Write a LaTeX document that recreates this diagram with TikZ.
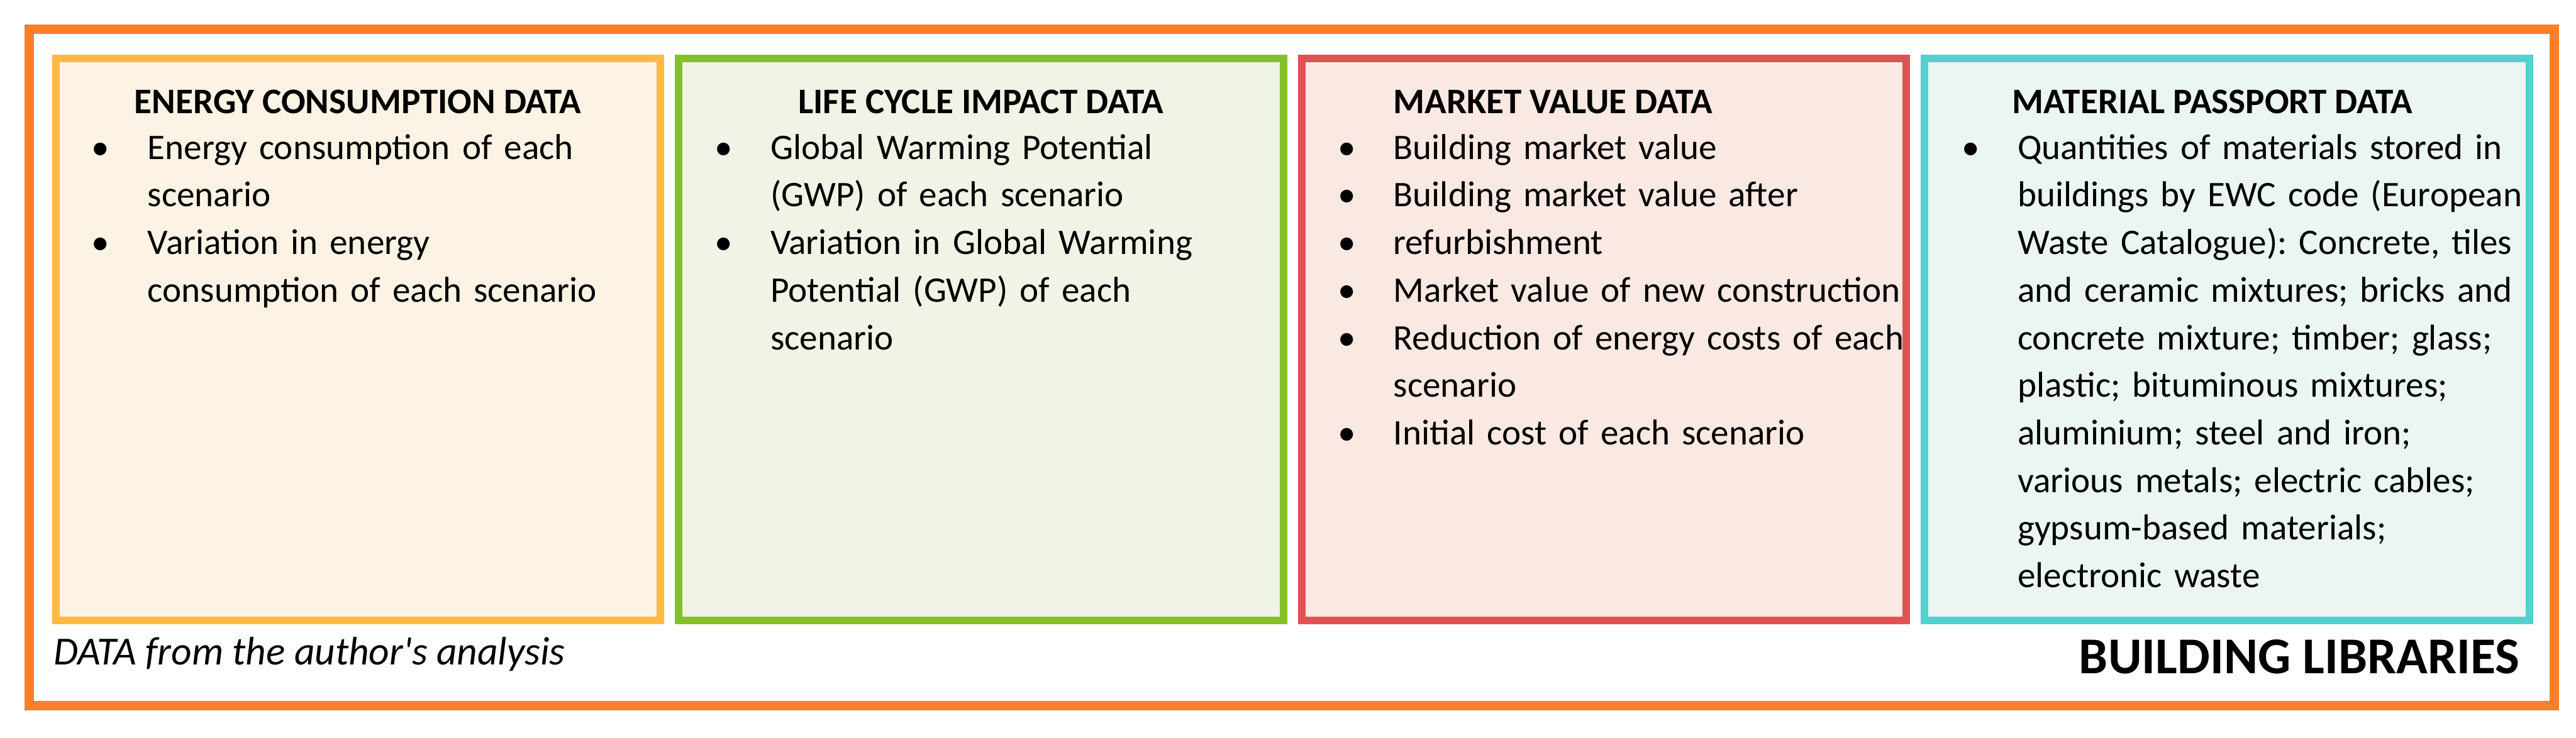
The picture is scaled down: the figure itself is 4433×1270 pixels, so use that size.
\documentclass[tikz,border=0pt]{standalone}
\usepackage{fontspec}
\setmainfont{Carlito}
\definecolor{frameorange}{RGB}{255,127,39}
\definecolor{energyline}{RGB}{255,186,68}
\definecolor{energyfill}{RGB}{253,243,228}
\definecolor{lcaline}{RGB}{132,192,41}
\definecolor{lcafill}{RGB}{240,244,230}
\definecolor{marketline}{RGB}{224,82,84}
\definecolor{marketfill}{RGB}{250,232,226}
\definecolor{passline}{RGB}{84,208,206}
\definecolor{passfill}{RGB}{235,246,243}
\newcommand{\bul}{\makebox[0.96cm][l]{\textbullet}}
\newcommand{\cont}{\hspace*{0.96cm}}
\frenchspacing
\begin{document}
\begin{tikzpicture}[x=0.01cm, y=-0.01cm,
  every node/.style={inner sep=0pt, outer sep=0pt, font=\fontsize{17.6}{23.3}\selectfont},
  databox/.style={draw, line width=3.7pt, minimum width=10.4cm, minimum height=9.67cm, anchor=north west},
  head/.style={anchor=base, font=\fontsize{17.6}{23.3}\selectfont\bfseries},
  items/.style={anchor=base west, text width=10cm, align=left}]
\fill[white] (0,0) rectangle (4433,1270);
\useasboundingbox (0,0) rectangle (4433,1270);
\node[draw=frameorange, line width=4.5pt, minimum width=43.43cm, minimum height=11.64cm, anchor=north west] (frame) at (50,50) {};
\node[databox, draw=energyline, fill=energyfill] (energy) at (96,101) {};
\node[databox, draw=lcaline, fill=lcafill] (lca) at (1168,101) {};
\node[databox, draw=marketline, fill=marketfill] (market) at (2240,101) {};
\node[databox, draw=passline, fill=passfill] (passport) at (3312,101) {};
\node[head] (energyhead) at (616,195) {ENERGY CONSUMPTION DATA};
\node[head] (lcahead) at (1688,195) {LIFE CYCLE IMPACT DATA};
\node[head, anchor=base west] (markethead) at (2398,195) {MARKET VALUE DATA};
\node[head, anchor=base west] (passhead) at (3463,195) {MATERIAL PASSPORT DATA};
\node[items] (energylist) at (158,274) {\bul Energy consumption of each\\ \cont scenario\\ \bul Variation in energy\\ \cont consumption of each scenario};
\node[items] (lcalist) at (1230,274) {\bul Global Warming Potential\\ \cont (GWP) of each scenario\\ \bul Variation in Global Warming\\ \cont Potential (GWP) of each\\ \cont scenario};
\node[items] (marketlist) at (2302,274) {\bul Building market value\\ \bul Building market value after\\ \bul refurbishment\\ \bul Market value of new construction\\ \bul Reduction of energy costs of each\\ \cont scenario\\ \bul Initial cost of each scenario};
\node[items] (passlist) at (3376,274) {\bul Quantities of materials stored in\\ \cont buildings by EWC code (European\\ \cont Waste Catalogue): Concrete, tiles\\ \cont and ceramic mixtures; bricks and\\ \cont concrete mixture; timber; glass;\\ \cont plastic; bituminous mixtures;\\ \cont aluminium; steel and iron;\\ \cont various metals; electric cables;\\ \cont gypsum-based materials;\\ \cont electronic waste};
\node[anchor=base west, font=\fontsize{19.5}{23}\selectfont\itshape] (source) at (92,1144) {DATA from the author\textquotesingle s analysis};
\node[anchor=base east, font=\fontsize{25.3}{30}\selectfont\bfseries] (libraries) at (4336,1160) {BUILDING LIBRARIES};
\end{tikzpicture}
\end{document}
